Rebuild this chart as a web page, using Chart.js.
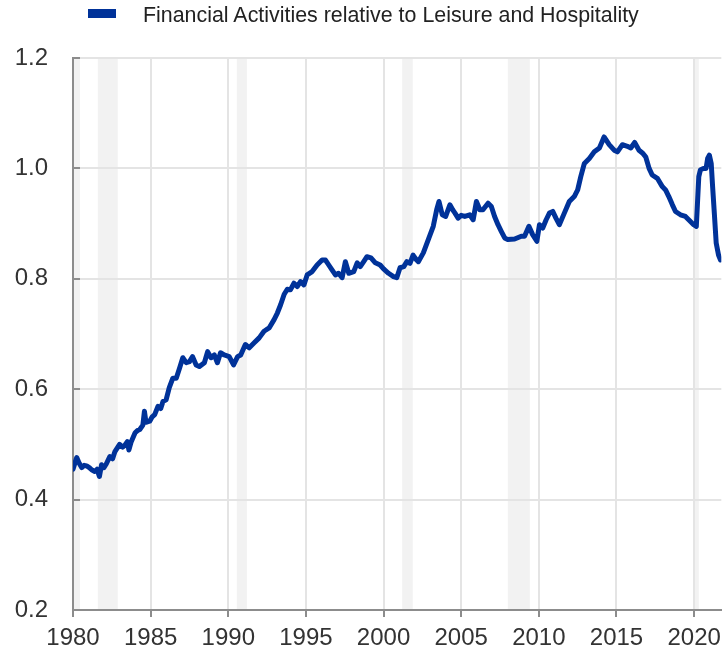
<!DOCTYPE html>
<html>
<head>
<meta charset="utf-8">
<script src="https://cdn.jsdelivr.net/npm/chart.js@4"></script>
<style>
  body { margin: 0; background: #fff; }
  #wrap { position: relative; width: 728px; height: 654px; }
  #legend { position: absolute; left: 88px; top: 3px; font-family: "Liberation Sans", Arial, sans-serif; font-size: 21.4px; color: #222; white-space: nowrap; }
  #legend .box { display: inline-block; width: 28px; height: 9px; background: #003299; margin-right: 27px; vertical-align: 4px; }
</style>
</head>
<body>
<div id="wrap">
  <canvas id="myChart" width="728" height="654"></canvas>
  <div id="legend"><span class="box"></span>Financial Activities relative to Leisure and Hospitality</div>
</div>
<script>
// series (decimal years)
const years = [
  1980.0, 1980.12, 1980.24, 1980.4, 1980.56, 1980.72, 1980.88, 1981.05, 1981.2, 1981.4,
  1981.55, 1981.7, 1981.84, 1982.0, 1982.15, 1982.37, 1982.55, 1982.7, 1983.0, 1983.2,
  1983.33, 1983.5, 1983.6, 1983.75, 1984.0, 1984.15, 1984.3, 1984.5, 1984.6, 1984.7,
  1984.94, 1985.1, 1985.26, 1985.47, 1985.65, 1985.8, 1986.0, 1986.2, 1986.43, 1986.65,
  1986.86, 1987.07, 1987.29, 1987.5, 1987.7, 1987.93, 1988.14, 1988.46, 1988.67, 1988.89,
  1989.1, 1989.3, 1989.5, 1989.74, 1990.06, 1990.34, 1990.6, 1990.8, 1991.1, 1991.35,
  1991.67, 1991.99, 1992.3, 1992.63, 1992.95, 1993.16, 1993.37, 1993.6, 1993.8, 1994.0,
  1994.23, 1994.44, 1994.65, 1994.87, 1995.08, 1995.4, 1995.72, 1996.04, 1996.26, 1996.47,
  1996.68, 1996.9, 1997.1, 1997.33, 1997.54, 1997.76, 1998.08, 1998.3, 1998.5, 1998.72,
  1998.93, 1999.19, 1999.47, 1999.78, 2000.0, 2000.32, 2000.64, 2000.85, 2001.06, 2001.3,
  2001.5, 2001.7, 2001.9, 2002.1, 2002.24, 2002.56, 2002.88, 2003.2, 2003.42, 2003.57,
  2003.78, 2004.0, 2004.27, 2004.45, 2004.6, 2004.8, 2005.0, 2005.23, 2005.55, 2005.77,
  2005.98, 2006.2, 2006.4, 2006.73, 2006.94, 2007.15, 2007.37, 2007.58, 2007.8, 2008.0,
  2008.44, 2008.87, 2009.08, 2009.36, 2009.6, 2009.87, 2010.04, 2010.25, 2010.47, 2010.68,
  2010.9, 2011.1, 2011.32, 2011.64, 2011.96, 2012.28, 2012.5, 2012.7, 2012.93, 2013.25,
  2013.57, 2013.9, 2014.2, 2014.53, 2014.85, 2015.06, 2015.38, 2015.7, 2015.92, 2016.17,
  2016.45, 2016.67, 2016.88, 2017.1, 2017.3, 2017.63, 2017.95, 2018.16, 2018.37, 2018.6,
  2018.8, 2019.12, 2019.44, 2019.65, 2019.97, 2020.14, 2020.3, 2020.4, 2020.6, 2020.77,
  2020.87, 2020.98, 2021.1, 2021.19, 2021.3, 2021.42, 2021.57, 2021.7
];
const ratio = [
  0.455, 0.466, 0.476, 0.466, 0.458, 0.462, 0.461, 0.458, 0.454, 0.451,
  0.455, 0.442, 0.463, 0.458, 0.465, 0.478, 0.474, 0.487, 0.500, 0.495,
  0.498, 0.505, 0.490, 0.505, 0.521, 0.525, 0.527, 0.535, 0.560, 0.540,
  0.542, 0.550, 0.554, 0.569, 0.565, 0.578, 0.581, 0.603, 0.620, 0.620,
  0.638, 0.657, 0.648, 0.650, 0.659, 0.644, 0.641, 0.648, 0.668, 0.657,
  0.662, 0.648, 0.666, 0.662, 0.659, 0.644, 0.659, 0.662, 0.681, 0.675,
  0.684, 0.693, 0.705, 0.711, 0.726, 0.738, 0.753, 0.772, 0.781, 0.780,
  0.792, 0.786, 0.795, 0.789, 0.807, 0.813, 0.825, 0.834, 0.834, 0.825,
  0.816, 0.807, 0.810, 0.802, 0.831, 0.810, 0.813, 0.829, 0.822, 0.831,
  0.840, 0.838, 0.829, 0.825, 0.818, 0.810, 0.804, 0.802, 0.820, 0.822,
  0.831, 0.828, 0.843, 0.835, 0.831, 0.847, 0.871, 0.895, 0.925, 0.940,
  0.916, 0.913, 0.934, 0.925, 0.919, 0.910, 0.915, 0.913, 0.916, 0.907,
  0.940, 0.925, 0.925, 0.937, 0.931, 0.913, 0.898, 0.886, 0.874, 0.871,
  0.872, 0.877, 0.877, 0.895, 0.880, 0.868, 0.898, 0.892, 0.907, 0.919,
  0.922, 0.910, 0.898, 0.919, 0.940, 0.949, 0.961, 0.985, 1.009, 1.018,
  1.030, 1.037, 1.057, 1.043, 1.033, 1.030, 1.043, 1.040, 1.037, 1.047,
  1.033, 1.028, 1.021, 1.000, 0.988, 0.982, 0.967, 0.961, 0.949, 0.934,
  0.922, 0.916, 0.913, 0.907, 0.898, 0.895, 0.985, 0.997, 1.000, 1.000,
  1.018, 1.024, 1.009, 0.967, 0.919, 0.865, 0.843, 0.834
];

// recession periods (grey bands)
const recessionStart = [1980.0, 1981.6, 1990.55, 2001.2, 2008.0, 2019.97];
const recessionEnd   = [1980.45, 1982.88, 1991.2, 2001.88, 2009.42, 2020.3];

const xMin = 1980, xMax = 2021.75;
const yTicks = [0.2, 0.4, 0.6, 0.8, 1.0, 1.2];

const points = years.map((y, i) => ({ x: y, y: ratio[i] }));

const axisGrey = '#8c8c8c';
const gridGrey = '#e4e4e4';
const tickFont = { family: 'Liberation Sans, Arial, sans-serif', size: 24 };

// shaded recessions + short y ticks drawn inside the plot
const bandsPlugin = {
  id: 'bands',
  beforeDraw(chart) {
    const { ctx, chartArea, scales } = chart;
    ctx.save();
    ctx.fillStyle = '#f2f2f2';
    for (let i = 0; i < recessionStart.length; i++) {
      const x0 = scales.x.getPixelForValue(recessionStart[i]);
      const x1 = scales.x.getPixelForValue(recessionEnd[i]);
      ctx.fillRect(x0, chartArea.top, x1 - x0, chartArea.bottom - chartArea.top);
    }
    ctx.restore();
  },
  beforeDatasetsDraw(chart) {
    const { ctx, chartArea, scales } = chart;
    ctx.save();
    ctx.strokeStyle = axisGrey;
    ctx.lineWidth = 2;
    yTicks.forEach(v => {
      const py = Math.round(scales.y.getPixelForValue(v));
      ctx.beginPath();
      ctx.moveTo(chartArea.left, py);
      ctx.lineTo(chartArea.left + 7, py);
      ctx.stroke();
    });
    ctx.restore();
  }
};

new Chart(document.getElementById('myChart'), {
  type: 'line',
  data: {
    datasets: [{
      label: 'Financial Activities relative to Leisure and Hospitality',
      data: points,
      borderColor: '#003299',
      backgroundColor: '#003299',
      borderWidth: 5,
      borderJoinStyle: 'round',
      borderCapStyle: 'round',
      pointRadius: 0,
      tension: 0,
      fill: false
    }]
  },
  options: {
    responsive: false,
    animation: false,
    devicePixelRatio: 1,
    layout: { padding: { top: 58, right: 4, bottom: 0, left: 0 } },
    plugins: {
      legend: { display: false },
      tooltip: { enabled: false }
    },
    scales: {
      x: {
        type: 'linear',
        min: xMin,
        max: xMax,
        afterFit: s => { s.height = 44; },
        ticks: {
          stepSize: 5,
          includeBounds: false,
          autoSkip: false,
          maxRotation: 0,
          padding: 7,
          color: '#333',
          font: tickFont,
          callback: v => String(v)
        },
        grid: { color: gridGrey, lineWidth: 2, tickColor: axisGrey, tickLength: 7, tickWidth: 2 },
        border: { color: axisGrey, width: 2 }
      },
      y: {
        min: 0.2,
        max: 1.2,
        afterFit: s => { s.width = 73; },
        ticks: {
          stepSize: 0.2,
          padding: 25,
          color: '#333',
          font: tickFont,
          callback: v => v.toFixed(1)
        },
        grid: { color: gridGrey, lineWidth: 2, drawTicks: false },
        border: { color: axisGrey, width: 2 }
      }
    }
  },
  plugins: [bandsPlugin]
});
</script>
</body>
</html>
